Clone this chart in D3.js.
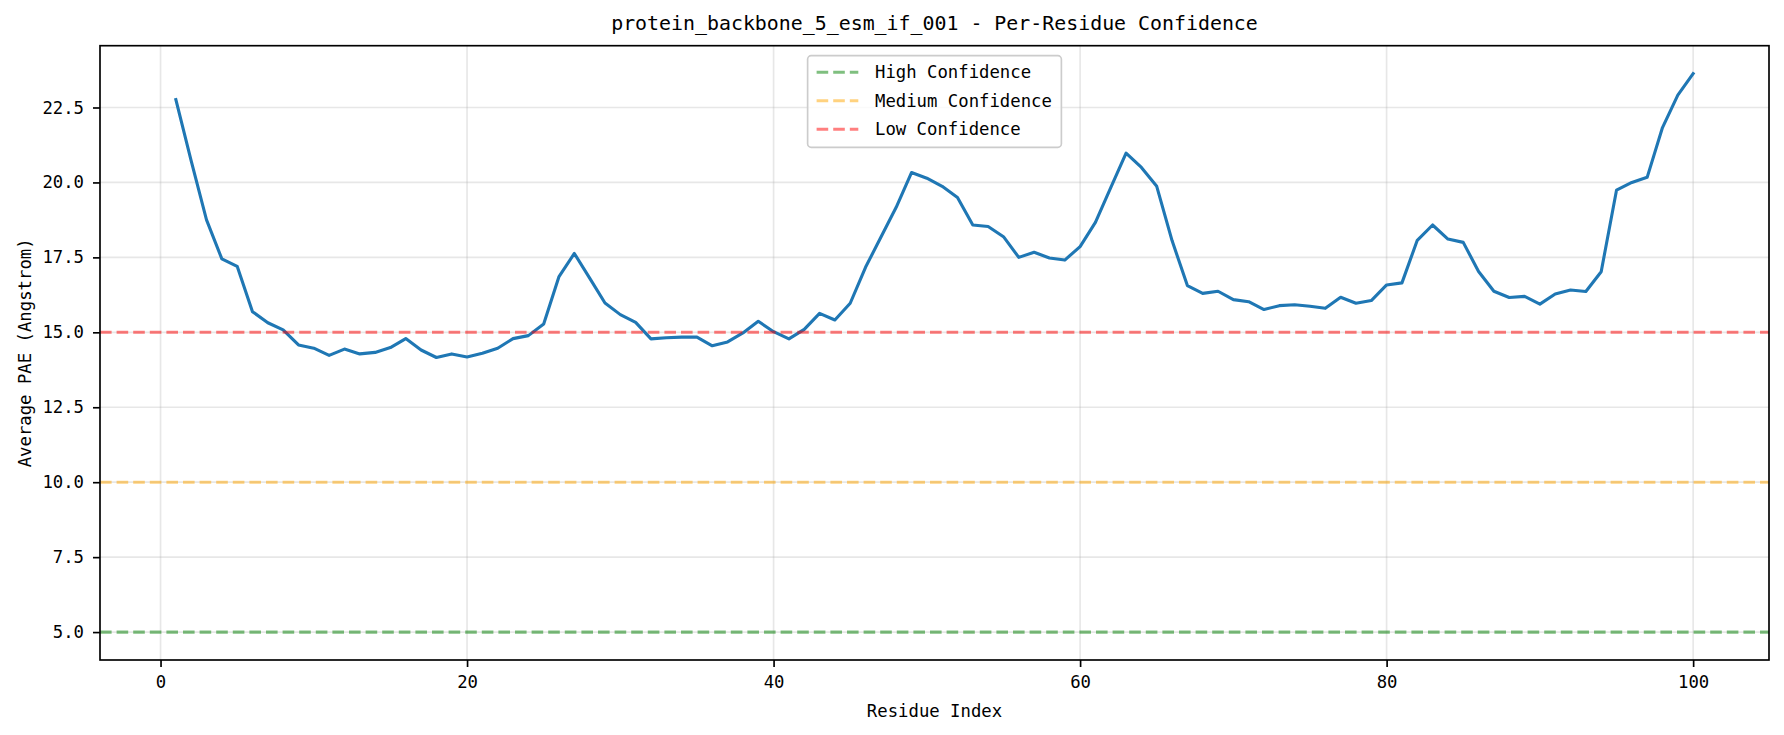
<!DOCTYPE html>
<html>
<head>
<meta charset="utf-8">
<script src="https://cdn.jsdelivr.net/npm/d3@7"></script>
<style>
  html, body { margin: 0; padding: 0; background: #fff; }
  svg { display: block; }
  text { font-family: "DejaVu Sans Mono", "Liberation Mono", monospace; fill: #000; }
</style>
</head>
<body>
<svg id="chart" width="1784" height="735"></svg>
<script>
// ---- data ----
const residueIndex = [1,2,3,4,5,6,7,8,9,10,11,12,13,14,15,16,17,18,19,20,
  21,22,23,24,25,26,27,28,29,30,31,32,33,34,35,36,37,38,39,40,
  41,42,43,44,45,46,47,48,49,50,51,52,53,54,55,56,57,58,59,60,
  61,62,63,64,65,66,67,68,69,70,71,72,73,74,75,76,77,78,79,80,
  81,82,83,84,85,86,87,88,89,90,91,92,93,94,95,96,97,98,99,100];
const averagePAE = [
  22.76, 20.72, 18.75, 17.45, 17.20, 15.69, 15.32, 15.08, 14.58, 14.47,
  14.23, 14.44, 14.28, 14.33, 14.49, 14.79, 14.41, 14.16, 14.28, 14.18,
  14.30, 14.47, 14.79, 14.89, 15.28, 16.86, 17.63, 16.81, 15.98, 15.59,
  15.33, 14.78, 14.82, 14.84, 14.84, 14.55, 14.68, 14.98, 15.37, 15.02,
  14.78, 15.10, 15.63, 15.41, 15.97, 17.17, 18.17, 19.17, 20.33, 20.14,
  19.87, 19.50, 18.58, 18.53, 18.19, 17.50, 17.67, 17.48, 17.41, 17.86,
  18.67, 19.83, 20.98, 20.50, 19.87, 18.06, 16.56, 16.30, 16.37, 16.09,
  16.02, 15.76, 15.89, 15.92, 15.87, 15.80, 16.17, 15.97, 16.06, 16.58,
  16.65, 18.07, 18.58, 18.11, 18.00, 17.03, 16.37, 16.16, 16.20, 15.94,
  16.28, 16.41, 16.36, 17.02, 19.74, 20.00, 20.17, 21.83, 22.91, 23.63
];
const thresholdNames = ["High Confidence", "Medium Confidence", "Low Confidence"];
const thresholdValues = [5, 10, 15];
const thresholdColors = ["green", "orange", "red"];
const xTickValues = [0, 20, 40, 60, 80, 100];
const yTickValues = [5.0, 7.5, 10.0, 12.5, 15.0, 17.5, 20.0, 22.5];
const chartTitle = "protein_backbone_5_esm_if_001 - Per-Residue Confidence";
const xLabel = "Residue Index";
const yLabel = "Average PAE (Angstrom)";

// ---- layout ----
const W = 1784, H = 735;
const plot = { left: 100, right: 1769, top: 45.7, bottom: 660 };
const fs = 17.3;        // 10pt equivalent
const titleFs = 19.9;   // 12pt equivalent
const lw = 3.1;         // 1.5pt
const spineW = 1.67;

const svg = d3.select("#chart");
svg.append("rect").attr("width", W).attr("height", H).attr("fill", "#fff");

// scales with matplotlib-like 5% margins
const xMin = d3.min(residueIndex), xMax = d3.max(residueIndex);
const xPad = (xMax - xMin) * 0.05;
const allY = averagePAE.concat(thresholdValues);
const yMin = d3.min(allY), yMax = d3.max(allY);
const yPad = (yMax - yMin) * 0.05;

const x = d3.scaleLinear().domain([xMin - xPad, xMax + xPad]).range([plot.left, plot.right]);
const y = d3.scaleLinear().domain([yMin - yPad, yMax + yPad]).range([plot.bottom, plot.top]);

// clip
svg.append("clipPath").attr("id", "clip").append("rect")
  .attr("x", plot.left).attr("y", plot.top)
  .attr("width", plot.right - plot.left).attr("height", plot.bottom - plot.top);

// grid
const grid = svg.append("g");
grid.selectAll("line.vg").data(xTickValues).join("line")
  .attr("x1", d => x(d)).attr("x2", d => x(d))
  .attr("y1", plot.top).attr("y2", plot.bottom)
  .attr("stroke", "#b0b0b0").attr("stroke-opacity", 0.3).attr("stroke-width", 1.67);
grid.selectAll("line.hg").data(yTickValues).join("line")
  .attr("x1", plot.left).attr("x2", plot.right)
  .attr("y1", d => y(d)).attr("y2", d => y(d))
  .attr("stroke", "#b0b0b0").attr("stroke-opacity", 0.3).attr("stroke-width", 1.67);

// main line
const pts = residueIndex.map((r, i) => [r, averagePAE[i]]);
svg.append("path")
  .datum(pts)
  .attr("clip-path", "url(#clip)")
  .attr("fill", "none")
  .attr("stroke", "#1f77b4")
  .attr("stroke-width", lw)
  .attr("stroke-linejoin", "round")
  .attr("stroke-linecap", "square")
  .attr("d", d3.line().x(d => x(d[0])).y(d => y(d[1])));

// threshold lines
const dash = "11.6,5.0";
svg.append("g").selectAll("line").data(thresholdValues).join("line")
  .attr("clip-path", "url(#clip)")
  .attr("x1", plot.left).attr("x2", plot.right)
  .attr("y1", d => y(d)).attr("y2", d => y(d))
  .attr("stroke", (d, i) => thresholdColors[i])
  .attr("stroke-opacity", 0.5)
  .attr("stroke-width", lw)
  .attr("stroke-dasharray", dash);

// axes
const xAxis = d3.axisBottom(x).tickValues(xTickValues).tickFormat(d3.format("d")).tickSize(7).tickPadding(9);
const yAxis = d3.axisLeft(y).tickValues(yTickValues).tickFormat(d3.format(".1f")).tickSize(7).tickPadding(9);

const gx = svg.append("g").attr("transform", `translate(0,${plot.bottom})`).call(xAxis);
const gy = svg.append("g").attr("transform", `translate(${plot.left},0)`).call(yAxis);
[gx, gy].forEach(g => {
  g.select(".domain").remove();
  g.selectAll(".tick line").attr("stroke", "#000").attr("stroke-width", spineW);
  g.selectAll(".tick text").attr("fill", "#000")
    .style("font-family", '"DejaVu Sans Mono", monospace').style("font-size", fs + "px");
});
gx.selectAll(".tick text").attr("dy", "0.72em");

// spines
svg.append("rect")
  .attr("x", plot.left).attr("y", plot.top)
  .attr("width", plot.right - plot.left).attr("height", plot.bottom - plot.top)
  .attr("fill", "none").attr("stroke", "#000").attr("stroke-width", spineW);

// title
const cx = (plot.left + plot.right) / 2;
svg.append("text").attr("x", cx).attr("y", 30)
  .attr("text-anchor", "middle").style("font-size", titleFs + "px")
  .text(chartTitle);

// axis labels
svg.append("text").attr("x", cx).attr("y", 717)
  .attr("text-anchor", "middle").style("font-size", fs + "px")
  .text(xLabel);
svg.append("text")
  .attr("transform", `translate(31,${(plot.top + plot.bottom) / 2}) rotate(-90)`)
  .attr("text-anchor", "middle").style("font-size", fs + "px")
  .text(yLabel);

// legend
const leg = svg.append("g");
const legTexts = leg.selectAll("text").data(thresholdNames).join("text")
  .style("font-size", fs + "px")
  .attr("dominant-baseline", "central")
  .text(d => d);
let maxW = 0;
legTexts.each(function () { maxW = Math.max(maxW, this.getComputedTextLength()); });
const padL = 9, handleLen = 41.7, handleGap = 16.7, padR = 9.5;
const boxW = padL + handleLen + handleGap + maxW + padR;
const boxX = cx - boxW / 2, boxY = 55.7, rowH = 28.5, boxH = 91.6;
leg.insert("rect", "text")
  .attr("x", boxX).attr("y", boxY).attr("width", boxW).attr("height", boxH)
  .attr("rx", 3.5).attr("ry", 3.5)
  .attr("fill", "#fff").attr("fill-opacity", 0.8)
  .attr("stroke", "#cccccc").attr("stroke-width", 1.67);
legTexts
  .attr("x", boxX + padL + handleLen + handleGap)
  .attr("y", (d, i) => boxY + 16.6 + i * rowH);
leg.selectAll("line").data(thresholdNames).join("line")
  .attr("x1", boxX + padL).attr("x2", boxX + padL + handleLen)
  .attr("y1", (d, i) => boxY + 16.6 + i * rowH)
  .attr("y2", (d, i) => boxY + 16.6 + i * rowH)
  .attr("stroke", (d, i) => thresholdColors[i])
  .attr("stroke-opacity", 0.5)
  .attr("stroke-width", lw)
  .attr("stroke-dasharray", dash);
</script>
</body>
</html>
